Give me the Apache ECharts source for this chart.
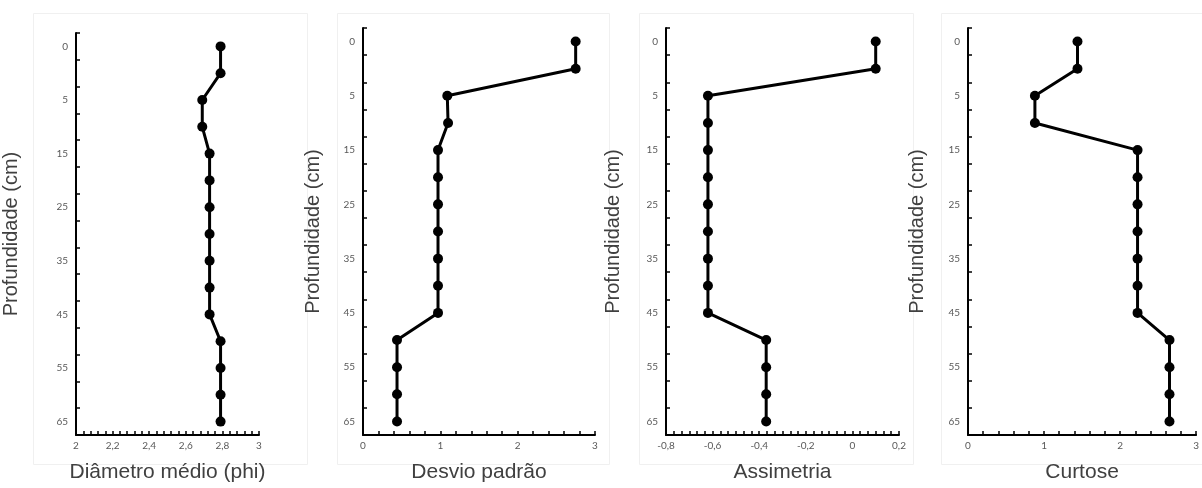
<!DOCTYPE html>
<html>
<head>
<meta charset="utf-8">
<title>Perfis granulométricos</title>
<script src="https://cdn.jsdelivr.net/npm/echarts@6/dist/echarts.min.js"></script>
<style>
    html, body { margin: 0; padding: 0; background: #ffffff; }
    #graph1 { width: 1202px; height: 488px; }
</style>
</head>
<body>
<div id="graph1"></div>
<script>
// profundidade (cm) - eixo vertical, de cima para baixo
var profundidade = ['0', '2,5', '5', '10', '15', '20', '25', '30', '35', '40', '45', '50', '55', '60', '65'];

var diametroMedio = [2.79, 2.79, 2.69, 2.69, 2.73, 2.73, 2.73, 2.73, 2.73, 2.73, 2.73, 2.79, 2.79, 2.79, 2.79];
var desvioPadrao = [2.75, 2.75, 1.09, 1.10, 0.97, 0.97, 0.97, 0.97, 0.97, 0.97, 0.97, 0.44, 0.44, 0.44, 0.44];
var assimetria = [0.10, 0.10, -0.62, -0.62, -0.62, -0.62, -0.62, -0.62, -0.62, -0.62, -0.62, -0.37, -0.37, -0.37, -0.37];
var curtose = [1.44, 1.44, 0.88, 0.88, 2.23, 2.23, 2.23, 2.23, 2.23, 2.23, 2.23, 2.65, 2.65, 2.65, 2.65];

var titulos = ['Diâmetro médio (phi)', 'Desvio padrão', 'Assimetria', 'Curtose'];
var escalas = [[2, 3, 0.2, 5], [0, 3, 1, 5], [-0.8, 0.2, 0.2, 6], [0, 3, 1, 5]];  // min, max, intervalo, minor

var myChart = echarts.init(document.getElementById('graph1'));

// posição de cada painel (px)
var grids = [
    {left: 76, top: 33, width: 183, height: 404},
    {left: 363, top: 28, width: 232, height: 410},
    {left: 666, top: 28, width: 233, height: 409},
    {left: 968, top: 28, width: 232, height: 409}
];
var yNameGap = [55, 40, 43, 41];
var frames = [[33, 13, 274, 451], [337, 13, 272, 451], [639, 13, 274, 451], [941, 13, 262, 451]];

function fmtVirgula(v) {
    return String(Math.round(v * 10) / 10).replace('.', ',');
}

var dados = [diametroMedio, desvioPadrao, assimetria, curtose];
var xAxes = [], yAxes = [], series = [], graphics = [];

for (var i = 0; i < 4; i++) {
    xAxes.push({
        type: 'value',
        gridIndex: i,
        min: escalas[i][0],
        max: escalas[i][1],
        interval: escalas[i][2],
        name: titulos[i],
        nameLocation: 'middle',
        nameGap: 27,
        nameTextStyle: {color: '#404040', fontSize: 21, fontFamily: 'Liberation Sans'},
        axisLine: {show: true, onZero: false, lineStyle: {color: '#000', width: 2}},
        axisTick: {show: true, inside: true, length: 4, lineStyle: {color: '#000', width: 1.5}},
        minorTick: {show: true, splitNumber: escalas[i][3], length: 4, lineStyle: {color: '#000', width: 1.5}},
        splitLine: {show: false},
        axisLabel: {
            color: '#595959',
            fontSize: 10,
            fontFamily: 'Lato',
            margin: 6,
            formatter: fmtVirgula
        }
    });
    yAxes.push({
        type: 'category',
        gridIndex: i,
        data: profundidade,
        inverse: true,
        boundaryGap: true,
        name: 'Profundidade (cm)',
        nameLocation: 'middle',
        nameGap: yNameGap[i],
        nameTextStyle: {color: '#404040', fontSize: 20, fontFamily: 'Liberation Sans'},
        axisLine: {show: true, onZero: false, lineStyle: {color: '#000', width: 2}},
        axisTick: {show: true, inside: true, interval: 0, length: 4, lineStyle: {color: '#000', width: 1.5}},
        splitLine: {show: false},
        axisLabel: {
            interval: 1,
            color: '#595959',
            fontSize: 10,
            fontFamily: 'Lato',
            margin: 8
        }
    });
    series.push({
        type: 'line',
        xAxisIndex: i,
        yAxisIndex: i,
        data: dados[i].map(function (v, k) { return [v, profundidade[k]]; }),
        symbol: 'circle',
        symbolSize: 10,
        itemStyle: {color: '#000'},
        lineStyle: {color: '#000', width: 3},
        animation: false
    });
    graphics.push({
        type: 'rect',
        shape: {x: frames[i][0] + 0.5, y: frames[i][1] + 0.5, width: frames[i][2], height: frames[i][3]},
        style: {fill: 'none', stroke: '#f0f0f0', lineWidth: 1},
        z: -1
    });
}

var option = {
    backgroundColor: '#ffffff',
    animation: false,
    grid: grids,
    xAxis: xAxes,
    yAxis: yAxes,
    series: series,
    graphic: graphics
};

if (option && typeof option === "object") {
    myChart.setOption(option, true);
}
</script>
</body>
</html>
